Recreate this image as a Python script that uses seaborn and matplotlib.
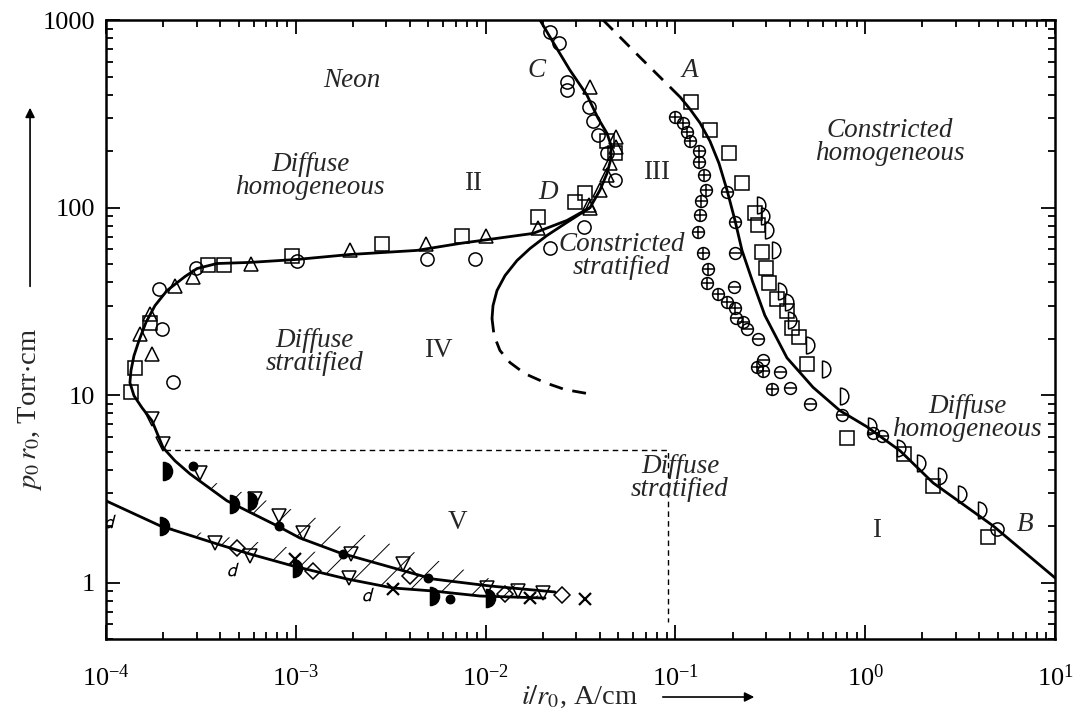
import numpy as np
import seaborn as sns
import matplotlib.pyplot as plt
from matplotlib.path import Path
from matplotlib.ticker import LogLocator, FuncFormatter, NullFormatter, LogFormatterSciNotation

# ---- boundary curves (i/r0 in A/cm, p0*r0 in Torr*cm) ----
band_top_x = [0.0232, 0.01055, 0.00528, 0.00354, 0.00171, 0.00105, 7.96e-4, 4.34e-4, 2.77e-4, 2.31e-4]
band_top_y = [0.891, 0.959, 1.045, 1.17, 1.44, 1.73, 2.01, 2.73, 3.80, 4.46]
band_bot_x = [1e-4, 1.925e-4, 3.84e-4, 5.74e-4, 9.66e-4, 1.862e-3, 3.25e-3, 5.28e-3, 9.34e-3, 0.02056]
band_bot_y = [2.73, 2.01, 1.608, 1.42, 1.227, 1.045, 0.936, 0.902, 0.848, 0.827]
arc_x = [2.0e-4, 1.747e-4, 1.548e-4, 1.404e-4, 1.337e-4, 1.354e-4, 1.404e-4, 1.492e-4, 1.624e-4,
         1.812e-4, 2.097e-4, 2.61e-4, 3.02e-4, 3.84e-4, 5.74e-4, 1.015e-3, 1.93e-3, 4.35e-3,
         7.33e-3, 0.01777, 0.02685, 0.0355, 0.040, 0.0436, 0.0458, 0.0458, 0.0436, 0.0391,
         0.0342, 0.0278, 0.02265, 0.01935]
arc_y = [5.24, 7.30, 8.56, 9.93, 11.65, 13.5, 16.2, 19.5, 24.4, 30.0, 36.1, 42.9, 47.3, 50.3,
         51.0, 52.9, 56.2, 59.1, 64.4, 72.8, 85.4, 100, 123.6, 152, 183, 215, 249, 300, 398,
         541, 763, 1000]
branch_x = [0.0355, 0.02685, 0.02106, 0.01714, 0.01464, 0.01266, 0.01148, 0.01094, 0.01081]
branch_y = [100, 83.4, 71.0, 60.5, 52.2, 43.4, 36.1, 30.0, 25.6]
branch_dash_x = [0.01081, 0.01108, 0.0119, 0.01345, 0.01613, 0.02056, 0.0262, 0.0342]
branch_dash_y = [25.6, 20.8, 17.3, 14.9, 13.0, 11.65, 10.7, 10.2]
ab_dash_x = [0.0416, 0.065, 0.106]
ab_dash_y = [1000, 634, 388]
ab_x = [0.106, 0.1194, 0.135, 0.1521, 0.1697, 0.187, 0.206, 0.2243, 0.254, 0.296, 0.387, 0.531,
        0.736, 1.02, 1.525, 2.28, 4.71, 10]
ab_y = [388, 335, 282, 226, 172, 124, 85.4, 59.1, 40.8, 26.6, 15.8, 11.0, 8.26, 6.78, 5.05,
        3.40, 2.01, 1.06]
box_x = [2.05e-4, 0.0914, 0.0914]
box_y = [5.1, 5.1, 0.62]

# ---- measured points ----
circ_x = [1.90e-4, 1.97e-4, 2.25e-4, 2.98e-4, 1.015e-3, 4.91e-3, 8.79e-3, 0.0218, 0.033,
          0.0218, 0.02436, 0.02685, 0.02685, 0.03505, 0.0368, 0.0391, 0.0436, 0.0481, 4.95]
circ_y = [37.0, 22.4, 11.8, 47.9, 51.6, 53.5, 53.5, 60.5, 78.4,
          863, 754, 467, 423, 343, 289, 243, 195, 140, 1.93]
tri_x = [1.51e-4, 1.705e-4, 1.747e-4, 2.31e-4, 2.87e-4, 5.81e-4, 1.93e-3, 4.85e-3, 0.01005,
         0.01889, 0.03505, 0.0355, 0.0487, 0.0487, 0.0452, 0.0436, 0.040, 0.0355]
tri_y = [21.3, 27.2, 16.6, 38.4, 42.4, 50.3, 59.1, 63.6, 70.2,
         77.4, 102.7, 439, 237, 210, 172, 149, 123.6, 100]
sq_x = [1.354e-4, 1.42e-4, 1.705e-4, 3.45e-4, 4.18e-4, 9.55e-4, 2.85e-3, 7.51e-3, 0.01889,
        0.02958, 0.0334, 0.0436, 0.0481, 0.1208, 0.1521, 0.1916, 0.2243, 0.2627, 0.2724,
        0.286, 0.3, 0.3112, 0.343, 0.387, 0.411, 0.448, 0.494, 0.802, 1.60, 2.28, 4.44]
sq_y = [10.4, 14.0, 24.1, 49.1, 49.7, 55.5, 63.6, 70.2, 88.7,
        106.6, 119, 226, 195, 365, 258, 195, 135, 93.1, 80.3,
        57.6, 47.9, 39.8, 32.7, 28.2, 22.9, 20.3, 14.7, 5.92, 4.86, 3.28, 1.75]
oplus_x = [0.0995, 0.1097, 0.1151, 0.1194, 0.1331, 0.1331, 0.1415, 0.145, 0.1364, 0.1348,
           0.1315, 0.1398, 0.1485, 0.1467, 0.1676, 0.187, 0.206, 0.227, 0.269, 0.2894, 0.323]
oplus_y = [303, 282, 252, 226, 200, 174, 150, 124, 108, 90.9,
           73.7, 56.9, 46.8, 39.8, 34.8, 31.2, 29.3, 24.4, 14.2, 13.5, 10.8]
ominus_x = [0.187, 0.206, 0.206, 0.2036, 0.2085, 0.2383, 0.2724, 0.2894, 0.3557, 0.4017,
            0.512, 0.755, 1.10, 1.226]
ominus_y = [120.5, 83.4, 56.9, 37.5, 25.9, 22.6, 20.0, 15.3, 13.3, 10.95,
            9.0, 7.86, 6.30, 6.07]
half_x = [0.269, 0.2825, 0.2965, 0.323, 0.347, 0.378, 0.392, 0.488, 0.592, 0.737, 1.035,
          1.47, 1.875, 2.42, 3.08, 3.93]
half_y = [102.7, 89.7, 75.5, 59.1, 35.7, 31.2, 25.0, 18.6, 13.7, 9.93, 6.86,
          5.24, 4.35, 3.69, 2.95, 2.44]
vtri_x = [2.0e-4, 1.747e-4, 3.13e-4, 6.1e-4, 8.16e-4, 1.091e-3, 1.95e-3, 3.67e-3, 0.01017,
          0.01481, 0.02006, 3.75e-4, 5.74e-4, 1.91e-3]
vtri_y = [5.50, 7.48, 3.85, 2.80, 2.27, 1.84, 1.42, 1.257, 0.936,
          0.902, 0.88, 1.63, 1.39, 1.06]
diam_x = [4.9e-4, 1.232e-3, 4.0e-3, 0.01266, 0.02526]
diam_y = [1.53, 1.153, 1.085, 0.869, 0.859]
cross_x = [9.9e-4, 3.25e-3, 0.01714, 0.0334]
cross_y = [1.34, 0.924, 0.827, 0.817]
dark_x = [2.0e-4, 4.5e-4, 5.6e-4, 1.925e-4, 9.66e-4, 5.09e-3, 0.0101]
dark_y = [3.95, 2.63, 2.73, 2.01, 1.197, 0.848, 0.827]
dot_x = [2.87e-4, 8.16e-4, 1.77e-3, 4.97e-3, 6.49e-3]
dot_y = [4.20, 2.01, 1.42, 1.06, 0.817]
tail_x = [1.05e-4, 4.67e-4, 2.4e-3]
tail_y = [2.13, 1.18, 0.869]

# ---- region labels ----
labels = [
    ("Neon", 1.98e-3, 478, True),
    ("Diffuse\nhomogeneous", 1.19e-3, 147, True),
    ("II", 8.58e-3, 135, False),
    ("C", 0.01866, 541, True),
    ("A", 0.1194, 541, True),
    ("III", 0.08, 154, False),
    ("D", 0.02133, 120.5, True),
    ("Constricted\nstratified", 0.0523, 54.9, True),
    ("Constricted\nhomogeneous", 1.35, 223, True),
    ("Diffuse\nstratified", 1.26e-3, 16.9, True),
    ("IV", 5.61e-3, 17.3, False),
    ("V", 7.07e-3, 2.08, False),
    ("Diffuse\nstratified", 0.1057, 3.62, True),
    ("I", 1.15, 1.89, False),
    ("Diffuse\nhomogeneous", 3.44, 7.57, True),
    ("B", 6.95, 2.03, True),
]

sns.set_theme(style="ticks")
plt.rcParams['font.family'] = ['Liberation Serif', 'DejaVu Serif']
plt.rcParams['mathtext.fontset'] = 'stix'
plt.rcParams['hatch.linewidth'] = 0.7

fig = plt.figure(figsize=(10.77, 7.14), dpi=100)
ax = fig.add_axes([0.0984, 0.105, 0.8812, 0.8669])
ax.set_xscale('log')
ax.set_yscale('log')


def curve(x, y, ls='-', lw=2.0):
    sns.lineplot(x=x, y=y, sort=False, estimator=None, color='black', lw=lw,
                 linestyle=ls, ax=ax, zorder=2)


def points(x, y, marker, ms=9.5, filled=False, mew=1.1):
    sns.lineplot(x=x, y=y, sort=False, estimator=None, color='black', linestyle='',
                 marker=marker, ms=ms, mec='black', mew=mew,
                 mfc='black' if filled else 'none', ax=ax, zorder=3)


# curves
curve(band_top_x + arc_x, band_top_y + arc_y)
curve(band_bot_x, band_bot_y)
curve(branch_x, branch_y)
curve(branch_dash_x, branch_dash_y, ls=(0, (5, 3.5)))
curve(ab_dash_x, ab_dash_y, ls=(0, (5, 3.5)))
curve(ab_x, ab_y)
curve(box_x, box_y, ls=(0, (4, 3)), lw=1.0)

# hatched band between the two lower curves
top_part = slice(0, 9)
ax.fill(band_top_x[top_part] + band_bot_x[::-1][:-1], band_top_y[top_part] + band_bot_y[::-1][:-1],
        facecolor='none', edgecolor='black', hatch='/', linewidth=0, zorder=1)

half_disc = Path.unit_circle_righthalf()

points(circ_x, circ_y, 'o', ms=9.5)
points(tri_x, tri_y, '^', ms=10.5)
points(sq_x, sq_y, 's', ms=9.5)
points(oplus_x, oplus_y, 'o', ms=8.5)
points(oplus_x, oplus_y, '+', ms=8.5)
points(ominus_x, ominus_y, 'o', ms=8.5)
points(ominus_x, ominus_y, '_', ms=8.5)
points(half_x, half_y, half_disc, ms=12)
points(vtri_x, vtri_y, 'v', ms=10.5)
points(diam_x, diam_y, 'D', ms=8)
points(cross_x, cross_y, 'x', ms=8, mew=1.6)
points(dark_x, dark_y, half_disc, ms=13, filled=True)
points(dot_x, dot_y, 'o', ms=6, filled=True)
points(tail_x, tail_y, r'$\mathsf{d}$', ms=10, filled=True, mew=0)

for text, x, y, ital in labels:
    ax.text(x, y, text, ha='center', va='center', fontsize=19.5,
            style='italic' if ital else 'normal', linespacing=0.9, zorder=4)

ax.set_xlim(1e-4, 10)
ax.set_ylim(0.5, 1000)
ax.xaxis.set_major_locator(LogLocator(base=10, numticks=10))
ax.xaxis.set_major_formatter(LogFormatterSciNotation())
ax.xaxis.set_minor_locator(LogLocator(base=10, subs=np.arange(2, 10), numticks=20))
ax.xaxis.set_minor_formatter(NullFormatter())
ax.yaxis.set_major_locator(LogLocator(base=10, numticks=10))
ax.yaxis.set_major_formatter(FuncFormatter(lambda v, _: f"{v:g}"))
ax.yaxis.set_minor_locator(LogLocator(base=10, subs=np.arange(2, 10), numticks=20))
ax.yaxis.set_minor_formatter(NullFormatter())
ax.tick_params(which='both', direction='in', top=True, right=True, colors='black',
               labelsize=19, width=1.3)
ax.tick_params(which='major', length=10)
ax.tick_params(axis='x', which='major', pad=18)
ax.tick_params(axis='y', which='major', pad=8)
ax.tick_params(which='minor', length=5)
for sp in ax.spines.values():
    sp.set_linewidth(1.8)
    sp.set_color('black')
ax.set_xlabel('')
ax.set_ylabel('')

fig.text(0.0279, 0.4258, r"$p_0\,r_0$, Torr$\cdot$cm", rotation=90, ha='center',
         va='center', fontsize=20.5)
fig.text(0.5385, 0.0238, r"$i/r_0$, A/cm", ha='center', va='center', fontsize=20.5)
ax.annotate('', xy=(0.0279, 0.853), xytext=(0.0279, 0.595), xycoords='figure fraction',
            arrowprops=dict(arrowstyle='-|>', color='black', lw=1.2, mutation_scale=14))
ax.annotate('', xy=(0.7029, 0.0238), xytext=(0.6128, 0.0238), xycoords='figure fraction',
            arrowprops=dict(arrowstyle='-|>', color='black', lw=1.2, mutation_scale=14))

fig.savefig('out.png', dpi=100)
